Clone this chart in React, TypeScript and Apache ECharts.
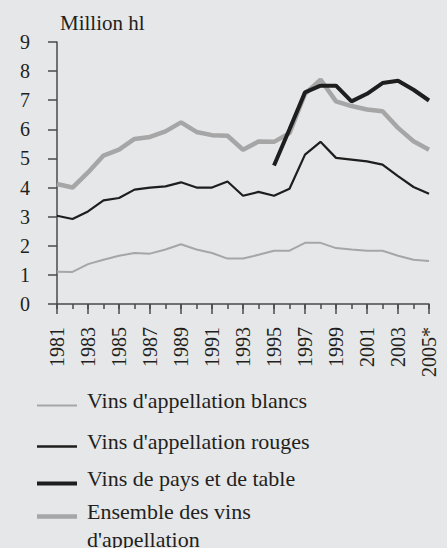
import React, { useEffect, useRef } from "react";
import * as echarts from "echarts";

const years = [
  "1981", "1982", "1983", "1984", "1985", "1986", "1987", "1988", "1989", "1990",
  "1991", "1992", "1993", "1994", "1995", "1996", "1997", "1998", "1999", "2000",
  "2001", "2002", "2003", "2004", "2005",
];
const yearLabels = years.map((y) => (y === "2005" ? "2005*" : y));

const blancs = [
  1.11, 1.1, 1.37, 1.52, 1.66, 1.75, 1.73, 1.87, 2.05, 1.87,
  1.75, 1.56, 1.56, 1.69, 1.83, 1.83, 2.1, 2.1, 1.92, 1.87,
  1.83, 1.83, 1.66, 1.52, 1.48,
];
const rouges = [
  3.03, 2.92, 3.18, 3.56, 3.64, 3.93, 4.0, 4.04, 4.18, 4.0,
  4.0, 4.21, 3.72, 3.85, 3.72, 3.96, 5.13, 5.57, 5.02, 4.96,
  4.9, 4.79, 4.39, 4.02, 3.79,
];
const paysTable = [
  null, null, null, null, null, null, null, null, null, null,
  null, null, null, null, 4.76, 6.0, 7.27, 7.5, 7.5, 6.96,
  7.22, 7.59, 7.67, 7.36, 6.99,
];
const ensemble = [
  4.12, 4.0, 4.52, 5.1, 5.3, 5.67, 5.74, 5.93, 6.24, 5.91,
  5.8, 5.78, 5.3, 5.58, 5.57, 5.87, 7.22, 7.71, 6.96, 6.8,
  6.68, 6.62, 6.05, 5.59, 5.3,
];

const names = [
  "Vins d'appellation blancs",
  "Vins d'appellation rouges",
  "Vins de pays et de table",
  "Ensemble des vins\nd'appellation",
];
const yTicks = { min: 0, max: 9, interval: 1 };
const unitLabel = "Million hl";

const FONT = "Liberation Serif";
const TEXT = "#231f20";
const AXIS = "#4a4a4a";
const GRAY = "#a6a6a6";
const BLACK = "#1e1e1e";
const BG = "#e6e7e9";

export default function App() {
  const ref = useRef<HTMLDivElement>(null);
  useEffect(() => {
    if (!ref.current) return;
    const chart = echarts.init(ref.current, undefined, { renderer: "svg" });
    const richStyles = {
      a: { fontFamily: FONT, fontSize: 22, lineHeight: 22, color: TEXT },
      b: { fontFamily: FONT, fontSize: 22, lineHeight: 28, color: TEXT },
      s: { fontFamily: FONT, fontSize: 1, lineHeight: 11, color: TEXT },
      t: { fontFamily: FONT, fontSize: 1, lineHeight: 17, color: TEXT },
    };
    const legendBase = (name: string, top: number, h: number, multi: boolean) => ({
      show: true,
      left: 37,
      top,
      orient: "vertical",
      itemWidth: 40,
      itemHeight: h,
      itemGap: 0,
      padding: 0,
      icon: "rect",
      data: [name],
      formatter: (n: string) =>
        multi
          ? "{t|\u00a0}\n" + n.split("\n").map((l) => "{b|" + l + "}").join("\n")
          : "{a|" + n + "}\n{s|\u00a0}",
      textStyle: {
        fontFamily: FONT,
        fontSize: 22,
        color: TEXT,
        padding: [0, 0, 0, 5],
        rich: richStyles,
      },
    });
    chart.setOption({
      animation: false,
      textStyle: { fontFamily: FONT },
      title: {
        text: unitLabel,
        left: 55,
        top: 7,
        textStyle: { fontFamily: FONT, fontSize: 21, fontWeight: 400, color: TEXT },
      },
      grid: { left: 57, right: 18, top: 42, bottom: 244, containLabel: false },
      legend: [
        legendBase(names[0], 403 - 14, 2, false),
        legendBase(names[1], 442 - 12, 2.5, false),
        legendBase(names[2], 479 - 12, 4, false),
        legendBase(names[3], 518 - 30, 4.5, true),
      ],
      xAxis: [
        {
          type: "category",
          data: yearLabels,
          boundaryGap: false,
          position: "bottom",
          axisLine: { show: true, lineStyle: { color: AXIS, width: 1.5 } },
          axisTick: { show: true, interval: 1, length: 10, lineStyle: { color: AXIS, width: 1.5 } },
          axisLabel: {
            interval: 1,
            rotate: 90,
            margin: 23,
            fontFamily: FONT,
            fontSize: 20,
            color: TEXT,
          },
          splitLine: { show: false },
        },
        {
          type: "category",
          data: yearLabels,
          boundaryGap: false,
          position: "bottom",
          offset: 0,
          axisLine: { show: false },
          axisTick: { show: true, interval: 0, length: 5, lineStyle: { color: AXIS, width: 1.5 } },
          axisLabel: { show: false },
          splitLine: { show: false },
        },
      ],
      yAxis: {
        type: "value",
        min: yTicks.min,
        max: yTicks.max,
        interval: yTicks.interval,
        axisLine: { show: true, lineStyle: { color: AXIS, width: 1.5 } },
        axisTick: { show: true, length: 9, lineStyle: { color: AXIS, width: 1.5 } },
        axisLabel: { margin: 27, fontFamily: FONT, fontSize: 20, color: TEXT },
        splitLine: { show: false },
      },
      series: [
        {
          name: names[0],
          type: "line",
          data: blancs,
          symbol: "none",
          color: GRAY,
          lineStyle: { color: GRAY, width: 2 },
          z: 2,
        },
        {
          name: names[1],
          type: "line",
          data: rouges,
          symbol: "none",
          color: BLACK,
          lineStyle: { color: BLACK, width: 2.2 },
          z: 3,
        },
        {
          name: names[3],
          type: "line",
          data: ensemble,
          symbol: "none",
          color: GRAY,
          lineStyle: { color: GRAY, width: 4.5 },
          z: 4,
        },
        {
          name: names[2],
          type: "line",
          data: paysTable,
          symbol: "none",
          connectNulls: false,
          color: BLACK,
          lineStyle: { color: BLACK, width: 4 },
          z: 5,
        },
      ],
    });
    return () => chart.dispose();
  }, []);
  return (
    <div style={{ fontFamily: FONT }}>
      <span style={{ fontFamily: FONT, position: "fixed", left: -600, top: 0 }}>Million hl 1981</span>
      <div
        ref={ref}
        style={{ position: "fixed", left: 0, top: 0, width: 447, height: 548, background: BG }}
      />
    </div>
  );
}
